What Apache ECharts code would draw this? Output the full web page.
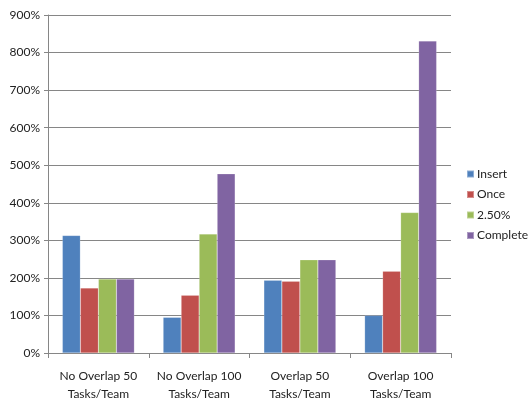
<!DOCTYPE html>
<html>
<head>
<meta charset="utf-8">
<script src="https://cdn.jsdelivr.net/npm/echarts@6/dist/echarts.min.js"></script>
<style>
  html, body { margin: 0; padding: 0; background: #fff; }
  #chart { width: 529px; height: 399px; }
</style>
</head>
<body>
<div id="chart"></div>
<script>
// Scenarios on the x axis
const categories = [
  'No Overlap 50\nTasks/Team',
  'No Overlap 100\nTasks/Team',
  'Overlap 50\nTasks/Team',
  'Overlap 100\nTasks/Team'
];

// Values in percent
const insertVals   = [313, 95, 194, 100];
const onceVals     = [173, 154, 191, 218];
const pct250Vals   = [197, 317, 248, 374];
const completeVals = [197, 477, 248, 831];

const seriesNames  = ['Insert', 'Once', '2.50%', 'Complete'];
const seriesColors = ['#4F81BD', '#C0504D', '#9BBB59', '#8064A2'];
const seriesData   = [insertVals, onceVals, pct250Vals, completeVals];

const yTicks = { min: 0, max: 900, interval: 100 };

const FONT = 'Lato, "Open Sans", sans-serif';

const chart = echarts.init(document.getElementById('chart'), null, { renderer: 'canvas' });

chart.setOption({
  animation: false,
  textStyle: { fontFamily: FONT },
  grid: { left: 48, right: 78, top: 15, bottom: 46, containLabel: false, outerBoundsMode: 'none' },
  legend: {
    orient: 'vertical',
    left: 461,
    top: 163,
    itemWidth: 7,
    itemHeight: 7,
    itemGap: 8.5,
    icon: 'rect',
    textStyle: { fontFamily: FONT, fontSize: 12, color: '#222', padding: [0, 0, 0, -2] },
    data: seriesNames
  },
  xAxis: {
    type: 'category',
    data: categories,
    axisLine: { lineStyle: { color: '#868686', width: 1 } },
    axisTick: { show: true, alignWithLabel: false, length: 5, lineStyle: { color: '#868686' } },
    axisLabel: { fontFamily: FONT, fontSize: 12, color: '#222', margin: 14, lineHeight: 18, interval: 0 }
  },
  yAxis: {
    type: 'value',
    min: yTicks.min,
    max: yTicks.max,
    interval: yTicks.interval,
    axisLine: { show: true, lineStyle: { color: '#868686', width: 1 } },
    axisTick: { show: true, length: 4, lineStyle: { color: '#868686' } },
    axisLabel: { fontFamily: FONT, fontSize: 12, color: '#222', margin: 8, formatter: v => v + '%' },
    splitLine: { lineStyle: { color: '#868686', width: 1 } }
  },
  series: seriesNames.map((name, i) => ({
    name,
    type: 'bar',
    data: seriesData[i],
    barGap: '0%',
    barCategoryGap: '28.5%',
    itemStyle: { color: seriesColors[i], borderColor: 'rgba(255,255,255,0.35)', borderWidth: 0.5 }
  }))
});
</script>
</body>
</html>
